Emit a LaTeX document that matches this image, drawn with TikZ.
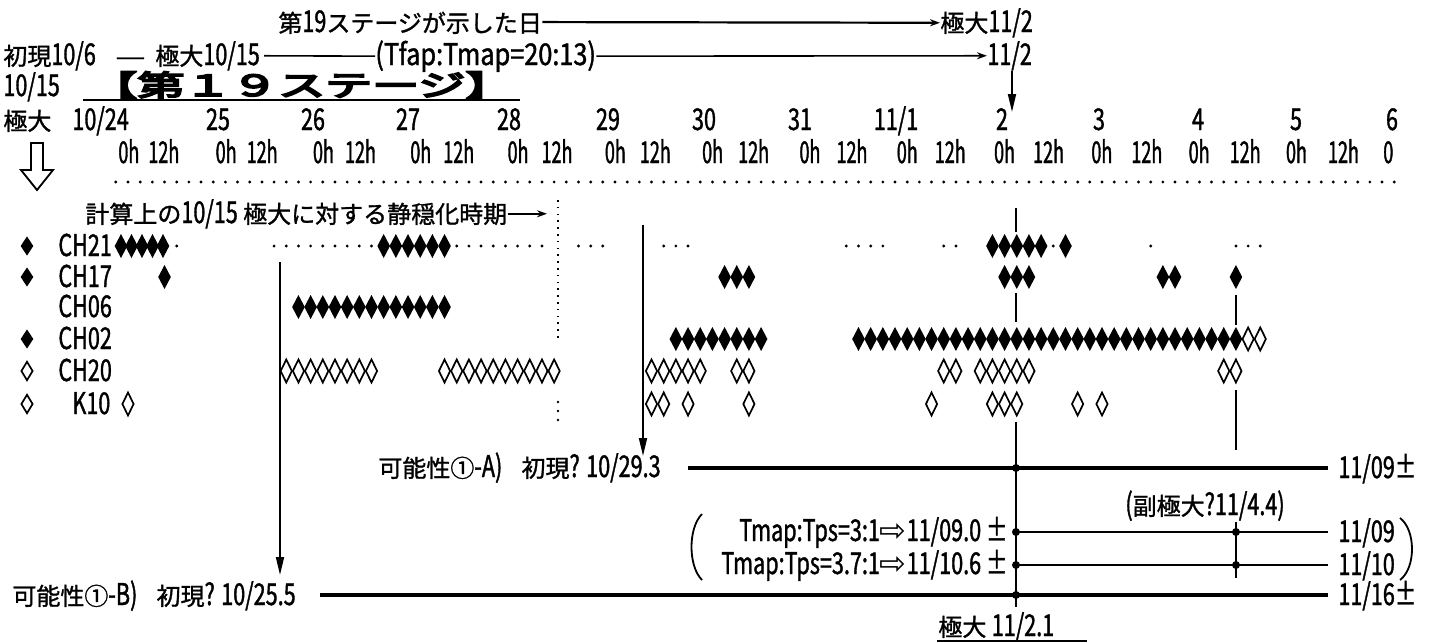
\documentclass[tikz,border=0pt]{standalone}
\usepackage{fontspec}
\usepackage{graphicx}
\setmainfont{Noto Sans CJK JP}[FakeBold=1.2]
\newfontfamily\latf[Scale=1.25,FakeStretch=0.72,FakeBold=1.2]{Noto Sans CJK JP}
\newfontfamily\hrf[Scale=1.25,FakeStretch=0.6,FakeBold=1.2]{Noto Sans CJK JP}
\newfontfamily\boldf[FakeBold=6]{Noto Sans CJK JP}
\newfontfamily\djv{DejaVu Sans}
\newcommand\ltn[1]{{\latf #1}}
\usetikzlibrary{arrows.meta}
\begin{document}
\begin{tikzpicture}[x=0.5pt,y=-0.5pt,
  every node/.style={font=\fontsize{12}{14}\selectfont, inner sep=0pt, anchor=base west},
  ctr/.style={anchor=base},
  rgt/.style={anchor=base east},
  fd/.pic={\fill (-6.3,0) -- (0,-12) -- (6.3,0) -- (0,12) -- cycle;},
  hd/.pic={\draw[line width=0.85pt, miter limit=20] (-5.6,0) -- (0,-11.5) -- (5.6,0) -- (0,11.5) -- cycle;},
  dt/.pic={\fill (0,0) circle (0.8pt);},
  tip/.style={-{Triangle[length=9pt,width=4pt]}},
  sarrow/.style={-{Stealth[length=5pt,width=3.5pt]}},
  vline/.style={line width=0.9pt},
  hline/.style={line width=1.6pt},
  tline/.style={line width=1.3pt}
]
\fill[white] (0,0) rectangle (1437,643);
\useasboundingbox (0,0) rectangle (1437,643);

% ---- top lines
\node (t1) at (278,32) {第\ltn{19}ステージが示した日};
\node (t2) at (940,32) {極大\ltn{11/2}};
\draw[line width=1.1pt, sarrow] (t1.east) -- (t2.west);

\node (t3) at (3,65) {初現\ltn{10/6}};
\node (t3d) at (115,65) {\scalebox{1.4}[1]{—}};
\node (t4) at (155,65) {極大\ltn{10/15}};
\node (t5) at (375,65) {\scalebox{1.17}[1]{\ltn{(Tfap:Tmap=20:13)}}};
\node (t6) at (987,65) {\ltn{11/2}};
\draw[line width=0.8pt] ([xshift=2pt]t4.east) -- (t5.west);
\draw[line width=0.8pt, sarrow] (t5.east) -- (t6.west);

\node (t7) at (3,96) {\ltn{10/15}};
\node (head) at (90,96) {\scalebox{1.62}[1]{\fontsize{14.5}{16}\boldf 【第１９ステージ】}};
\coordinate (ul1) at (83,100);
\coordinate (ul2) at (520,100);
\draw[line width=1pt] (ul1) -- (ul2);

\coordinate (v1) at (1012,112);
\draw[vline, tip] (t6.south -| v1) -- (v1);

% ---- day row
\node (d0a) at (3,130) {極大};
\node (d0) at (72,130) {\ltn{10/24}};
\foreach \x/\t in {218/25,313/26,408/27,509/28,608/29,704/30,800/31,1002/2,1099/3,1198/4,1296/5,1392/6}
  \node[ctr] (day\t) at (\x,130) {\ltn{\t}};
\node[ctr] (day111) at (896,130) {\ltn{11/1}};

% ---- hours row
\foreach \d in {0,...,12} {
  \node (h0\d) at (118+97.3*\d,163) {\hrf 0h};
  \node (h12\d) at (148+98.3*\d,163) {\hrf 12h};
}
\node (h013) at (118+97.3*13,163) {\hrf 0};

% dotted rule
\foreach \k in {-1,...,104} \fill (128+12.175*\k,182) circle (0.8pt);

% hollow down arrow
\draw[line width=0.9pt, line join=miter] (31,143) -- (43,143) -- (43,170) -- (53,170) -- (37,190) -- (21,170) -- (31,170) -- cycle;

% ---- calculation text
\node (calc) at (85,223) {計算上の\ltn{10/15} 極大に対する静穏化時期};
\coordinate (calcEnd) at (547,213);
\draw[line width=0.8pt, sarrow] (calc.east) -- (calc.east -| calcEnd);

% ---- legend
\node (lCH21) at (58,256) {\ltn{CH21}};
\node (lCH17) at (58,287) {\ltn{CH17}};
\node (lCH06) at (58,317) {\ltn{CH06}};
\node (lCH02) at (58,349) {\ltn{CH02}};
\node (lCH20) at (58,381) {\ltn{CH20}};
\node (lK10) at (72,414) {\ltn{K10}};
\pic[yscale=0.8] at (27,246) {fd};
\pic[yscale=0.8] at (27,277) {fd};
\pic[yscale=0.8] at (27,339) {fd};
\pic[yscale=0.8] at (27,371) {hd};
\pic[yscale=0.8] at (27,404) {hd};

% ---- CH21 (y=246)
\foreach \x in {121,131.5,142,152.5,163} \pic at (\x,246) {fd};
\foreach \k in {21,...,26,71,72,73,74,75,77} \pic at (128+12.175*\k,246) {fd};
\foreach \k in {4,12,13,...,20,27,28,...,34,37,38,39,44,45,46,59,60,61,62,67,68,76,84,91,92,93}
  \pic at (128+12.175*\k,246) {dt};
% ---- CH17 (y=277)
\foreach \k in {3,49,50,51,72,73,74,85,86,91} \pic at (128+12.175*\k,277) {fd};
% ---- CH06 (y=307)
\foreach \k in {14,...,26} \pic at (128+12.175*\k,307) {fd};
% ---- CH02 (y=339)
\foreach \k in {45,...,52,60,61,...,91} \pic at (128+12.175*\k,339) {fd};
\foreach \k in {92,93} \pic at (128+12.175*\k,339) {hd};
% ---- CH20 (y=371)
\foreach \k in {13,...,20,26,27,...,35,43,44,...,47,50,51,67,68,70,71,...,74,90,91}
  \pic at (128+12.175*\k,371) {hd};
% ---- K10 (y=404)
\foreach \k in {0,43,44,46,51,66,71,72,73,78,80} \pic at (128+12.175*\k,404) {hd};

% ---- vertical markers
\coordinate (q1) at (558,200);
\coordinate (q2) at (558,338);
\draw[line width=0.9pt, dash pattern=on 0.8pt off 2.6pt] (q1) -- (q2);
\foreach \y in {402,411,420} \fill (558,\y) circle (0.7pt);

\coordinate (bTop) at (280,262);
\coordinate (bTip) at (280,575);
\draw[vline, tip] (bTop) -- (bTip);
\coordinate (aTop) at (643,225);
\coordinate (aTip) at (643,456);
\draw[vline, tip] (aTop) -- (aTip);

\coordinate (m1) at (1016,208); \coordinate (m2) at (1016,232);
\coordinate (m3) at (1016,293); \coordinate (m4) at (1016,322);
\coordinate (m5) at (1016,422); \coordinate (m6) at (1016,607);
\draw[vline] (m1) -- (m2);
\draw[vline] (m3) -- (m4);
\draw[vline] (m5) -- (m6);
\coordinate (s1) at (1236,295); \coordinate (s2) at (1236,325);
\coordinate (s3) at (1236,390); \coordinate (s4) at (1236,450);
\coordinate (s5) at (1236,522); \coordinate (s6) at (1236,578);
\draw[vline] (s1) -- (s2);
\draw[vline] (s3) -- (s4);
\draw[vline] (s5) -- (s6);

% ---- bottom scenarios
\node (tA) at (378,477) {可能性①\ltn{-A)}\hspace{0.8em}初現\ltn{? 10/29.3}};
\coordinate (aL) at (688,468); \coordinate (aR) at (1328,468);
\draw[hline] (aL) -- (aR);
\node (rA) at (1338,478) {\ltn{11/09±}};

\node (sub) at (1125,515) {\ltn{(}副極大\ltn{?11/4.4)}};

\node[rgt] (tm1) at (1008,541) {\ltn{Tmap:Tps=3:1}{\djv\fontsize{16}{16}\selectfont ⇨}\ltn{11/09.0 ±}};
\node[rgt] (tm2) at (1008,574) {\ltn{Tmap:Tps=3.7:1}{\djv\fontsize{16}{16}\selectfont ⇨}\ltn{11/10.6 ±}};
\coordinate (p1L) at (1016,532); \coordinate (p1R) at (1328,532);
\coordinate (p2L) at (1016,565); \coordinate (p2R) at (1328,565);
\draw[tline] (p1L) -- (p1R);
\draw[tline] (p2L) -- (p2R);
\node (r1) at (1338,542) {\ltn{11/09}};
\node (r2) at (1338,575) {\ltn{11/10}};
\draw[line width=0.9pt] (702,514) .. controls (688,528) and (688,566) .. (702,580);
\draw[line width=0.9pt] (1400,518) .. controls (1416,530) and (1416,568) .. (1400,580);

\node (tB) at (12,605) {可能性①\ltn{-B)}\hspace{0.8em}初現\ltn{? 10/25.5}};
\coordinate (bL) at (320,595); \coordinate (bR) at (1328,595);
\draw[hline] (bL) -- (bR);
\node (rB) at (1338,605) {\ltn{11/16±}};

\foreach \p in {(1016,468),(1016,532),(1016,565),(1016,595),(1236,532),(1236,565)}
  \fill \p circle (2pt);

\node (mx) at (938,636) {極大 \ltn{11/2.1}};
\coordinate (u1) at (937,641); \coordinate (u2) at (1087,641);
\draw[line width=0.8pt] (u1) -- (u2);
\end{tikzpicture}
\end{document}
